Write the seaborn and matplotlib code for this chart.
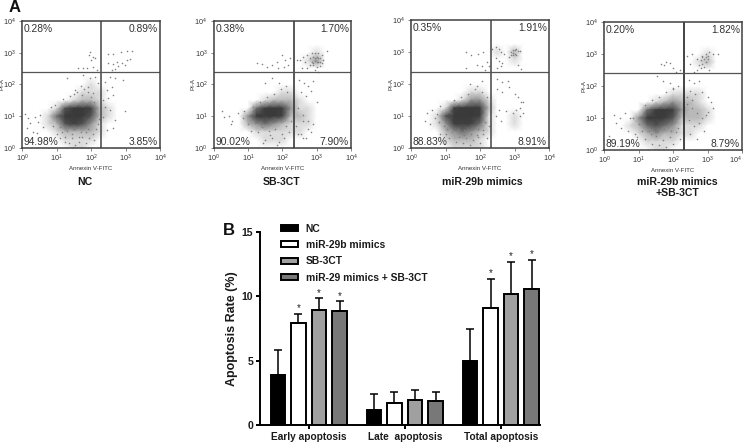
import matplotlib
matplotlib.use("Agg")
import matplotlib.pyplot as plt
import numpy as np
import pandas as pd
import seaborn as sns
from matplotlib.colors import LinearSegmentedColormap
from matplotlib.ticker import NullFormatter

# Panel A: readings in decades (log10), density is a 0-9 shade read by eye
PANEL_NAMES = ["NC", "SB-3CT", "miR-29b mimics", "miR-29b mimics\n+SB-3CT"]
PERCENTS = [
    ["0.28%", "0.89%", "94.98%", "3.85%"],
    ["0.38%", "1.70%", "90.02%", "7.90%"],
    ["0.35%", "1.91%", "88.83%", "8.91%"],
    ["0.20%", "1.82%", "89.19%", "8.79%"],
]
GATE_X = [2.30, 2.34, 2.33, 2.33]
GATE_Y = [2.38, 2.38, 2.39, 2.40]

GRID_X = [0, .25, .5, .75, 1, 1.25, 1.5, 1.75, 2, 2.25, 2.5, 2.75, 3, 3.25, 3.5]
GRID_Y = [3.25, 3, 2.75, 2.5, 2.25, 2, 1.75, 1.5, 1.25, 1, .75, .5, .25, 0]

DENSITY_NC = [
    [0, 0, 0, 0, 0, 0, 0, 0, 0, 0, 0, 0, 0, 0, 0],
    [0, 0, 0, 0, 0, 0, 0, 0, 0, 0, 0, 0, 0, 0, 0],
    [0, 0, 0, 0, 0, 0, 0, 0, 0, 0, 0, 0, 0, 0, 0],
    [0, 0, 0, 0, 0, 0, 0, 0, 0, 0, 0, 0, 0, 0, 0],
    [0, 0, 0, 0, 0, 0, 0, 0, 0, 0, 0, 0, 0, 0, 0],
    [0, 0, 0, 0, 0, 0, 0, 0, 1, 0, 0, 0, 0, 0, 0],
    [0, 0, 0, 0, 0, 0, 0, 1, 1, 1, 0, 0, 0, 0, 0],
    [0, 0, 0, 0, 0, 0, 1, 2, 2, 1, 0, 0, 0, 0, 0],
    [0, 0, 0, 0, 1, 5, 9, 9, 6, 2, 1, 0, 0, 0, 0],
    [0, 0, 0, 1, 4, 9, 9, 9, 5, 2, 1, 0, 0, 0, 0],
    [0, 0, 0, 1, 2, 5, 6, 5, 3, 1, 0, 0, 0, 0, 0],
    [0, 0, 0, 0, 1, 2, 2, 2, 2, 1, 0, 0, 0, 0, 0],
    [0, 0, 0, 0, 0, 1, 1, 1, 1, 0, 0, 0, 0, 0, 0],
    [0, 0, 0, 0, 0, 0, 1, 1, 0, 0, 0, 0, 0, 0, 0],
]
DENSITY_SB = [
    [0, 0, 0, 0, 0, 0, 0, 0, 0, 0, 0, 0, 0, 0, 0],
    [0, 0, 0, 0, 0, 0, 0, 0, 0, 0, 0, 0, 1, 0, 0],
    [0, 0, 0, 0, 0, 0, 0, 0, 0, 0, 0, 1, 3, 0, 0],
    [0, 0, 0, 0, 0, 0, 0, 0, 0, 0, 0, 0, 0, 0, 0],
    [0, 0, 0, 0, 0, 0, 0, 0, 0, 0, 0, 0, 0, 0, 0],
    [0, 0, 0, 0, 0, 0, 0, 0, 0, 0, 0, 0, 0, 0, 0],
    [0, 0, 0, 0, 0, 0, 0, 0, 1, 1, 0, 0, 0, 0, 0],
    [0, 0, 0, 0, 0, 0, 1, 2, 2, 2, 1, 0, 0, 0, 0],
    [0, 0, 0, 0, 0, 4, 8, 9, 7, 3, 1, 1, 0, 0, 0],
    [0, 0, 0, 0, 3, 9, 9, 9, 6, 2, 2, 1, 0, 0, 0],
    [0, 0, 0, 0, 2, 3, 4, 3, 2, 1, 1, 1, 0, 0, 0],
    [0, 0, 0, 0, 0, 1, 1, 1, 1, 1, 1, 0, 0, 0, 0],
    [0, 0, 0, 0, 0, 0, 1, 1, 1, 0, 0, 0, 0, 0, 0],
    [0, 0, 0, 0, 0, 0, 0, 0, 0, 0, 0, 0, 0, 0, 0],
]
DENSITY_MIR = [
    [0, 0, 0, 0, 0, 0, 0, 0, 0, 0, 0, 0, 0, 0, 0],
    [0, 0, 0, 0, 0, 0, 0, 0, 0, 0, 1, 0, 2, 0, 0],
    [0, 0, 0, 0, 0, 0, 0, 0, 0, 0, 0, 0, 1, 0, 0],
    [0, 0, 0, 0, 0, 0, 0, 0, 0, 0, 0, 0, 0, 0, 0],
    [0, 0, 0, 0, 0, 0, 0, 0, 0, 0, 0, 0, 0, 0, 0],
    [0, 0, 0, 0, 0, 0, 0, 0, 0, 0, 0, 0, 0, 0, 0],
    [0, 0, 0, 0, 0, 0, 0, 1, 1, 0, 0, 0, 0, 0, 0],
    [0, 0, 0, 0, 0, 0, 1, 3, 3, 1, 0, 0, 0, 0, 0],
    [0, 0, 0, 0, 1, 6, 9, 9, 8, 2, 0, 0, 0, 0, 0],
    [0, 0, 0, 1, 5, 9, 9, 9, 7, 1, 0, 0, 1, 0, 0],
    [0, 0, 0, 1, 3, 7, 7, 6, 4, 1, 0, 0, 1, 0, 0],
    [0, 0, 0, 0, 2, 3, 4, 3, 2, 1, 0, 0, 0, 0, 0],
    [0, 0, 0, 0, 1, 2, 2, 2, 1, 0, 0, 0, 0, 0, 0],
    [0, 0, 0, 0, 0, 1, 1, 1, 1, 0, 0, 0, 0, 0, 0],
]
DENSITY_BOTH = [
    [0, 0, 0, 0, 0, 0, 0, 0, 0, 0, 0, 0, 0, 0, 0],
    [0, 0, 0, 0, 0, 0, 0, 0, 0, 0, 0, 0, 1, 0, 0],
    [0, 0, 0, 0, 0, 0, 0, 0, 0, 0, 0, 1, 2, 0, 0],
    [0, 0, 0, 0, 0, 0, 0, 0, 0, 0, 0, 0, 0, 0, 0],
    [0, 0, 0, 0, 0, 0, 0, 0, 0, 0, 0, 0, 0, 0, 0],
    [0, 0, 0, 0, 0, 0, 0, 0, 0, 0, 0, 0, 0, 0, 0],
    [0, 0, 0, 0, 0, 0, 0, 0, 1, 1, 1, 1, 0, 0, 0],
    [0, 0, 0, 0, 0, 0, 1, 2, 3, 2, 2, 1, 0, 0, 0],
    [0, 0, 0, 0, 0, 4, 8, 9, 7, 3, 2, 2, 1, 0, 0],
    [0, 0, 0, 0, 3, 8, 9, 8, 5, 2, 2, 2, 1, 0, 0],
    [0, 0, 0, 1, 2, 4, 5, 4, 3, 1, 1, 1, 0, 0, 0],
    [0, 0, 0, 0, 1, 2, 3, 2, 2, 1, 1, 0, 0, 0, 0],
    [0, 0, 0, 0, 0, 1, 1, 1, 1, 0, 0, 0, 0, 0, 0],
    [0, 0, 0, 0, 0, 0, 1, 1, 0, 0, 0, 0, 0, 0, 0],
]
DENSITIES = [DENSITY_NC, DENSITY_SB, DENSITY_MIR, DENSITY_BOTH]

DOTS_NC_X = [1.97, 2.07, 1.94, 2.12, 2.0, 1.63, 1.78, 1.87, 2.07, 2.16, 2.5, 2.65, 2.87, 3.03, 3.18, 2.74, 2.89,
             3.03, 2.5, 2.65, 2.79, 2.99, 3.13, 2.6, 2.7, 2.41, 2.55, 2.7, 2.94, 2.45, 2.6, 2.36, 2.5, 2.65, 2.41,
             2.55, 2.36, 2.99, 2.45, 2.65, 2.7, 1.29, 1.78, 1.97, 2.12, 2.21, 1.92, 1.54, 2.07, 1.73, .09, .18, .23,
             .14, .38, .47, .52, .62, .33, .43,
             .85, .95, 1.05, 1.15, .9, 1.0, 1.1, 1.25, 1.35, 1.45, 1.55, 1.65, 1.75, 1.85, 1.95, 2.05, 2.15, 2.22,
             1.2, 1.4, 1.6, 1.8, 2.0, 1.1, 1.3, 1.5, 1.7, 1.9, 1.25, 1.45, 1.65, 1.85, 2.1, 2.2, 1.5, 1.7, 1.9, 2.1]
DOTS_NC_Y = [3.03, 2.88, 2.93, 2.82, 2.77, 2.51, 2.51, 2.51, 2.56, 2.46, 2.96, 2.96, 3.03, 3.07, 3.07, 2.72, 2.67,
             2.77, 2.67, 2.65, 2.58, 2.61, 2.79, 2.46, 2.48, 2.09, 2.25, 2.19, 2.14, 1.83, 1.93, 1.51, 1.56, 1.67, 1.3,
             1.2, .99, 1.18, .57, .62, .88, 2.19, 2.3, 2.19, 2.25, 2.04, 1.93, 1.83, 1.72, 1.67, 1.07, .93, .78,
             .62, .99, .83, 1.04, .67, .51, .46,
             1.3, 1.35, .95, .5, .7, .45, .3, .2, .15, .3, .1, .2, .35, .15, .3, .45, .6, .9,
             1.55, 1.65, 1.75, 1.85, 1.6, .65, .55, .6, .5, .6, .35, .45, .35, .5, .25, .75, 1.7, 1.95, 1.75, 1.45]
DOTS_SB_X = [2.71, 2.86, 2.95, 3.05, 3.15, 2.81, 2.9, 3.0, 3.1, 3.19, 2.86, 2.95, 3.05, 3.15, 2.9, 3.0, 3.1, 2.81,
             2.61, 2.52, 2.42, 2.66, 3.29, 2.95, 3.05, 2.71, 2.57, 3.0, 2.95, 3.05, 3.1, 2.9, 1.26, 1.41, 1.55, 1.7,
             1.84, 1.99, 2.08, 2.22, 2.18, 2.04, 1.89, 2.5, 2.62, 2.75, 2.9, 2.55, 2.7, 2.85, 3.0, 2.6, 2.75, 2.45,
             2.6, .3, .45, .55, .7, .85, .25, .5,
             .9, 1.0, 1.1, 1.2, 1.3, 1.4, 1.5, 1.6, 1.7, 1.8, 1.9, 2.0, 2.1, 2.2, 1.15, 1.35, 1.55, 1.75, 1.95, 2.15,
             1.45, 1.65, 1.85, 2.05, 2.25, 1.5, 1.7, 1.9, 2.1, 2.45, 2.6, 2.75, 2.9, 2.4, 2.55, 2.7, 2.85]
DOTS_SB_Y = [2.93, 2.98, 3.0, 2.98, 2.93, 2.82, 2.88, 2.88, 2.82, 2.77, 2.72, 2.75, 2.72, 2.67, 2.61, 2.56, 2.58, 2.61,
             2.88, 2.77, 2.77, 2.72, 3.07, 2.46, 2.4, 2.51, 2.51, 2.72, 2.82, 2.82, 2.7, 2.68, 2.67, 2.65, 2.56, 2.61,
             2.72, 2.93, 2.77, 2.82, 2.61, 2.56, 2.51, 2.15, 2.05, 1.95, 2.1, 1.75, 1.65, 1.8, 1.45, .85, .6, .45,
             .3, .98, 1.0, .85, 1.1, .95, 1.15, .75,
             1.15, .75, .55, .8, .5, .65, .25, .55, .3, .6, .2, .45, .7, .5, 1.3, 1.45, 1.6, 1.7, 1.85, 1.75,
             .15, .4, .1, .3, .85, 2.05, 2.2, 2.05, 1.95, 1.25, 1.05, .85, .75, .7, .45, .3, .5]
DOTS_MIR_X = [2.35, 2.45, 2.55, 2.6, 2.7, 2.45, 2.55, 2.65, 2.9, 2.95, 3.0, 3.05, 3.1, 2.9, 2.95, 3.0, 3.05, 2.97,
              3.15, 2.85, 2.6, 2.5, 3.1, 3.2, 1.6, 1.75, 1.95, 2.1, 2.2, 2.25, 1.9, 2.05, 2.15, 1.6, 2.5, 2.65, 2.8,
              2.5, 2.65, 2.85, 3.0, 3.1, 3.2, 3.25, 3.15, 3.05, 3.25, 3.15, 2.95, 2.75, 2.55, 2.45, 2.6, .45, .6, .75,
              .4, .55, .7, .95, .85,
              .85, .95, 1.05, .8, 1.0, 1.1, 1.2, 1.3, 1.4, 1.5, 1.6, 1.7, 1.8, 1.9, 2.0, 2.1, 2.2, 2.25, 1.25, 1.45,
              1.65, 1.85, 2.05, 2.2, 1.55, 1.75, 1.95, 2.15, 1.15, 1.35, 1.55, 1.75, 1.95, 2.1, 1.7, 1.9, 2.05]
DOTS_MIR_Y = [3.1, 3.15, 3.1, 3.0, 2.95, 2.8, 2.72, 2.65, 3.0, 3.05, 3.05, 3.1, 3.03, 2.92, 2.97, 2.95, 2.9, 2.9,
              3.03, 2.85, 2.55, 2.5, 2.6, 2.48, 3.0, 2.92, 2.95, 3.0, 2.7, 2.55, 2.6, 2.55, 2.45, 2.5, 2.15, 2.05, 2.1,
              1.85, 1.75, 1.9, 1.7, 1.6, 1.45, 1.45, 1.25, 1.2, 1.1, 1.0, 1.1, 1.15, 1.2, 1.0, .85, 1.1, 1.2, 1.05,
              .85, .75, .95, .7, .45,
              1.3, .95, .6, .8, .45, .3, .5, .2, .35, .15, .3, .1, .25, .4, .15, .55, .3, .7, 1.5, 1.6,
              1.7, 1.85, 1.75, 1.6, .55, .45, .6, .8, 1.25, .6, .4, .55, .35, .45, 2.0, 1.95, 2.1]
DOTS_BOTH_X = [2.4, 2.55, 2.7, 2.85, 2.95, 3.05, 3.15, 2.8, 2.9, 3.0, 2.75, 2.85, 2.95, 2.8, 2.9, 3.05, 2.7, 2.6, 2.5,
               3.0, 2.85, 2.95, 3.3, 1.65, 1.8, 1.9, 1.75, 2.0, 2.1, 2.2, 1.55, 1.7, 1.9, 2.0, 2.15, 2.45, 2.6, 2.75,
               2.5, 2.65, 2.85, 3.0, 3.1, 3.15, 2.95, .15, .3, .45, .6, .75, .35, .5, .7, .9,
               .85, 1.0, 1.1, .95, 1.2, 1.3, 1.4, 1.5, 1.6, 1.7, 1.8, 1.9, 2.0, 2.1, 2.2, 1.2, 1.4, 1.6, 1.8, 2.0,
               1.35, 1.55, 1.75, 1.95, 2.15, 2.4, 2.55, 2.7, 2.85, 3.0, 2.45, 2.6, 2.75, 2.9, 2.5, 2.7, 2.4, 2.55]
DOTS_BOTH_Y = [2.95, 3.0, 2.85, 2.95, 3.0, 3.05, 3.0, 2.8, 2.85, 2.95, 2.65, 2.7, 2.75, 2.55, 2.6, 2.5, 2.5, 2.45, 2.7,
               2.85, 2.9, 2.9, 3.0, 2.7, 2.75, 2.72, 2.65, 2.55, 2.45, 2.5, 2.3, 2.15, 2.1, 1.95, 2.0, 2.2, 2.1, 2.15,
               1.85, 1.75, 1.8, 1.65, 1.5, 1.3, 1.1, .45, 1.1, 1.0, 1.15, 1.0, .85, .7, .6, .5,
               1.0, .8, .6, .4, .35, .6, .2, .45, .15, .3, .1, .4, .2, .55, .35, 1.4, 1.55, 1.65, 1.8, 1.9,
               .5, .55, .65, .6, .7, 1.45, 1.3, 1.15, 1.0, 1.2, .95, .75, .85, .6, .5, .35, 1.65, 1.55]
DOTS_X = [DOTS_NC_X, DOTS_SB_X, DOTS_MIR_X, DOTS_BOTH_X]
DOTS_Y = [DOTS_NC_Y, DOTS_SB_Y, DOTS_MIR_Y, DOTS_BOTH_Y]

# left, top, right, bottom of every cytometry frame, in pixels
PANEL_BOX = [(22, 21, 160, 148), (213.5, 21, 351, 148), (411, 20, 549, 148), (604, 22, 742, 150)]
NAME_CENTER = [85, 282, 482, 677]
GATE_COLOR = ["#444444", "#2a2a2a", "#444444", "#111111"]

# Panel B
STAGES = ["Early apoptosis", "Late  apoptosis", "Total apoptosis"]
GROUPS = ["NC", "miR-29b mimics", "SB-3CT", "miR-29 mimics + SB-3CT"]
EARLY_RATE = [3.9, 7.9, 8.95, 8.85]
LATE_RATE = [1.2, 1.7, 1.95, 1.85]
TOTAL_RATE = [5.0, 9.1, 10.15, 10.55]
EARLY_ERR = [1.95, 0.75, 0.9, 0.75]
LATE_ERR = [1.2, 0.85, 0.75, 0.7]
TOTAL_ERR = [2.45, 2.25, 2.55, 2.3]
EARLY_STAR = ["", "*", "*", "*"]
LATE_STAR = ["", "", "", ""]
TOTAL_STAR = ["", "*", "*", "*"]
BAR_COLORS = ["#000000", "#ffffff", "#a0a0a0", "#787878"]

W, H = 746, 442
FONT = "Liberation Sans"
sns.set_theme(style="ticks")
plt.rcParams["font.family"] = [FONT, "DejaVu Sans"]
plt.rcParams["mathtext.fontset"] = "custom"
plt.rcParams["mathtext.rm"] = FONT
plt.rcParams["mathtext.default"] = "regular"

fig = plt.figure(figsize=(W / 100, H / 100), dpi=100)
shade = LinearSegmentedColormap.from_list(
    "shade", [(0, "#ffffff"), (1 / 9, "#dcdcdc"), (2 / 9, "#b8b8b8"), (3 / 9, "#949494"), (4 / 9, "#707070"),
              (5 / 9, "#545454"), (6 / 9, "#424242"), (1, "#3a3a3a")])


def px_axes(left, top, right, bottom):
    return fig.add_axes([left / W, 1 - bottom / H, (right - left) / W, (bottom - top) / H])


def draw_flow_panel(i):
    ax = px_axes(*PANEL_BOX[i])
    xx = 10 ** np.array(GRID_X, dtype=float)
    yy = 10 ** np.array(GRID_Y, dtype=float)
    ax.pcolormesh(xx, yy, np.array(DENSITIES[i], dtype=float), shading="gouraud", cmap=shade, vmin=0, vmax=9)
    sns.scatterplot(x=10 ** np.array(DOTS_X[i]), y=10 ** np.array(DOTS_Y[i]), s=1.3, color="#808080",
                    linewidth=0, ax=ax)
    ax.set_xscale("log")
    ax.set_yscale("log")
    ax.set_xlim(1, 1e4)
    ax.set_ylim(1, 1e4)
    ax.axvline(10 ** GATE_X[i], color=GATE_COLOR[i], lw=1.1)
    ax.axhline(10 ** GATE_Y[i], color="#555555", lw=0.9)
    for spine in ax.spines.values():
        spine.set_color("#404040")
        spine.set_linewidth(1.1)
    ax.set_xticks([1, 10, 100, 1000, 10000])
    ax.set_yticks([1, 10, 100, 1000, 10000])
    ax.tick_params(which="major", length=2, width=0.5, labelsize=5.2, pad=1.5, color="#555555", labelcolor="#333333")
    ax.tick_params(axis="y", which="major", pad=2.5)
    ax.tick_params(which="minor", length=1, width=0.3, color="#777777")
    ax.xaxis.set_minor_formatter(NullFormatter())
    ax.yaxis.set_minor_formatter(NullFormatter())
    ax.set_xlabel("Annexin V-FITC", fontsize=4.4, labelpad=1.5, color="#333333")
    ax.set_ylabel("PI-A", fontsize=4.4, labelpad=-1, color="#333333")
    if i == 3:
        # no room past the frame on the right of the figure
        ax.get_xticklabels()[-1].set_ha("right")

    upper_left, upper_right, lower_left, lower_right = PERCENTS[i]
    pct = dict(fontsize=7.4, color="#333333", transform=ax.transAxes)
    ax.text(0.012, 0.975, upper_left, ha="left", va="top", **pct)
    ax.text(0.985, 0.975, upper_right, ha="right", va="top", **pct)
    ax.text(0.012, 0.01, lower_left, ha="left", va="bottom", **pct)
    ax.text(0.985, 0.01, lower_right, ha="right", va="bottom", **pct)
    fig.text(NAME_CENTER[i] / W, 1 - 177 / H, PANEL_NAMES[i], fontsize=7.6, fontweight="bold",
             ha="center", va="top", color="#1a1a1a", linespacing=1.15)


for i in range(4):
    draw_flow_panel(i)

fig.text(9 / W, 1 - 7 / H, "A", fontsize=12, fontweight="bold", ha="left", va="center", color="#111111")
fig.text(223 / W, 1 - 230 / H, "B", fontsize=12, fontweight="bold", ha="left", va="center", color="#111111")

# bar panel
df = pd.DataFrame({
    "stage": np.repeat(STAGES, len(GROUPS)),
    "group": GROUPS * len(STAGES),
    "rate": EARLY_RATE + LATE_RATE + TOTAL_RATE,
    "err": EARLY_ERR + LATE_ERR + TOTAL_ERR,
    "star": EARLY_STAR + LATE_STAR + TOTAL_STAR,
})

ax = px_axes(260, 232, 540, 425)
sns.barplot(data=df, x="stage", y="rate", hue="group", hue_order=GROUPS, order=STAGES, palette=BAR_COLORS,
            width=0.857, gap=0.3, edgecolor="black", linewidth=1.4, errorbar=None, saturation=1, ax=ax)

for container, group in zip(ax.containers, GROUPS):
    rows = df[df["group"] == group]
    centers = [bar.get_x() + bar.get_width() / 2 for bar in container]
    ax.errorbar(centers, rows["rate"], yerr=[np.zeros(len(rows)), rows["err"]], fmt="none", ecolor="black",
                elinewidth=1.1, capsize=3, capthick=1.1, zorder=1)
    for cx, top, err, star in zip(centers, rows["rate"], rows["err"], rows["star"]):
        if star:
            ax.text(cx, top + err + 0.42, star, ha="center", va="center", fontsize=7, color="#222222")

ax.set_xlim(-0.507, 2.408)
ax.set_ylim(0, 15)
ax.set_yticks([0, 5, 10, 15])
ax.set_xlabel("")
ax.set_ylabel("Apoptosis Rate (%)", fontsize=9, fontweight="bold", labelpad=2.5, color="#1a1a1a")
ax.tick_params(axis="both", length=3, width=1.4, color="black", labelcolor="#1a1a1a", pad=2)
ax.tick_params(axis="x", labelsize=7.3)
ax.tick_params(axis="y", labelsize=7.6)
for label in ax.get_xticklabels() + ax.get_yticklabels():
    label.set_fontweight("bold")
for side in ["top", "right"]:
    ax.spines[side].set_visible(False)
for side in ["left", "bottom"]:
    ax.spines[side].set_linewidth(1.4)
    ax.spines[side].set_color("black")

ax.legend(loc="upper left", bbox_to_anchor=(16 / 280, 1.07), frameon=False, prop=dict(size=7.4, weight="bold"),
          handlelength=1.6, handleheight=0.55, handletextpad=0.8, labelspacing=0.62, borderpad=0, labelcolor="#1a1a1a")

fig.savefig("out.png", dpi=100)
